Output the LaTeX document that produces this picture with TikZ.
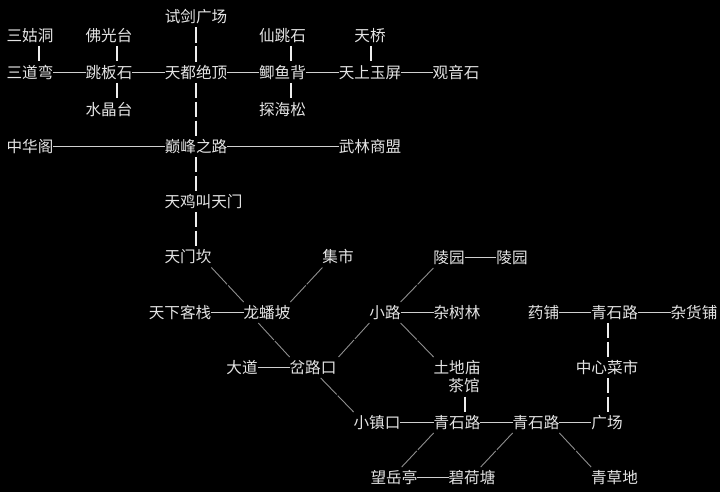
\documentclass[tikz,border=0pt]{standalone}
\usepackage{fontspec}
\setmainfont{Noto Sans CJK SC}
\tikzset{
  place/.style={inner sep=0pt,outer sep=0pt,text=placetext,font=\fontsize{15.6}{15.6}\selectfont,text height=16.35pt,text depth=4.65pt},
  hlink/.style={draw=hlinecolor,line width=1.1pt},
  vlink/.style={draw=vlinecolor,line width=1.7pt,dash pattern=on 15.4pt off 3.4pt},
  dlink/.style={draw=dlinecolor,line width=0.9pt,dash pattern=on 23pt off 1.5pt},
}
\definecolor{placetext}{HTML}{E4E4E4}
\definecolor{hlinecolor}{HTML}{D0D0D0}
\definecolor{vlinecolor}{HTML}{EEEEEE}
\definecolor{dlinecolor}{HTML}{8E8E8E}
\begin{document}
\begin{tikzpicture}[x=1pt,y=-1pt]
\fill[black] (0,0) rectangle (720,492);
\useasboundingbox (0,0) rectangle (720,492);
\node[place] (sangu) at (30,35.5) {三姑洞};
\node[place] (foguang) at (109,35.5) {佛光台};
\node[place] (shijian) at (196,17) {试剑广场};
\node[place] (xiantiao) at (282.5,35.5) {仙跳石};
\node[place] (tianqiao) at (370,35.5) {天桥};
\node[place] (sandao) at (30,72.5) {三道弯};
\node[place] (tiaoban) at (109,72.5) {跳板石};
\node[place] (tiandu) at (196,72.5) {天都绝顶};
\node[place] (jiyu) at (282.5,72.5) {鲫鱼背};
\node[place] (yuping) at (370,72.5) {天上玉屏};
\node[place] (guanyin) at (456,72.5) {观音石};
\node[place] (shuijing) at (109,110) {水晶台};
\node[place] (tanhai) at (282.5,110) {探海松};
\node[place] (zhonghua) at (30,146.5) {中华阁};
\node[place] (dianfeng) at (196,146.5) {巅峰之路};
\node[place] (wulin) at (370,146.5) {武林商盟};
\node[place] (tianji) at (203.5,201.5) {天鸡叫天门};
\node[place] (tianmen) at (188,257) {天门坎};
\node[place] (jishi) at (338,257) {集市};
\node[place] (lingyuan) at (449,257.5) {陵园};
\node[place] (lingyuanb) at (512,257.5) {陵园};
\node[place] (kezhan) at (180,312.5) {天下客栈};
\node[place] (longpan) at (267,312.5) {龙蟠坡};
\node[place] (xiaolu) at (385,312.5) {小路};
\node[place] (zashu) at (457,312.5) {杂树林};
\node[place] (yaopu) at (543.5,312.5) {药铺};
\node[place] (qingshia) at (614.5,312.5) {青石路};
\node[place] (zahuo) at (694,312.5) {杂货铺};
\node[place] (dadao) at (242,367.5) {大道};
\node[place] (chalu) at (313,367.5) {岔路口};
\node[place] (tudi) at (457,367.5) {土地庙};
\node[place] (zhongxin) at (607,367.5) {中心菜市};
\node[place] (chaguan) at (464,386) {茶馆};
\node[place] (xiaozhen) at (377,422.5) {小镇口};
\node[place] (qingshib) at (457,422.5) {青石路};
\node[place] (qingshic) at (536,422.5) {青石路};
\node[place] (guangchang) at (607,422.5) {广场};
\node[place] (wangyue) at (394,477.5) {望岳亭};
\node[place] (bihe) at (472,477.5) {碧荷塘};
\node[place] (qingcao) at (614.5,477.5) {青草地};
% horizontal
\draw[hlink] (sandao) -- (tiaoban);
\draw[hlink] (tiaoban) -- (tiandu);
\draw[hlink] (tiandu) -- (jiyu);
\draw[hlink] (jiyu) -- (yuping);
\draw[hlink] (yuping) -- (guanyin);
\draw[hlink] (zhonghua) -- (dianfeng);
\draw[hlink] (dianfeng) -- (wulin);
\draw[hlink] (lingyuan) -- (lingyuanb);
\draw[hlink] (kezhan) -- (longpan);
\draw[hlink] (xiaolu) -- (zashu);
\draw[hlink] (yaopu) -- (qingshia);
\draw[hlink] (qingshia) -- (zahuo);
\draw[hlink] (dadao) -- (chalu);
\draw[hlink] (xiaozhen) -- (qingshib);
\draw[hlink] (qingshib) -- (qingshic);
\draw[hlink] (qingshic) -- (guangchang);
\draw[hlink] (wangyue) -- (bihe);
% vertical
\draw[vlink] ([xshift=8.7pt]sangu.south) -- ([xshift=8.7pt]sandao.north);
\draw[vlink] ([xshift=8.3pt]foguang.south) -- ([xshift=8.3pt]tiaoban.north);
\draw[vlink] ([xshift=8.3pt]tiaoban.south) -- ([xshift=8.3pt]shuijing.north);
\draw[vlink] ([xshift=.3pt]shijian.south) -- ([xshift=.3pt]tiandu.north);
\draw[vlink] ([xshift=.3pt]tiandu.south) -- ([xshift=.3pt]dianfeng.north);
\draw[vlink] ([xshift=.3pt]dianfeng.south) -- ([xshift=-7.2pt]tianji.north);
\draw[vlink] ([xshift=-7.2pt]tianji.south) -- ([xshift=8.3pt]tianmen.north);
\draw[vlink] ([xshift=8.8pt]xiantiao.south) -- ([xshift=8.8pt]jiyu.north);
\draw[vlink] ([xshift=8.8pt]jiyu.south) -- ([xshift=8.8pt]tanhai.north);
\draw[vlink] ([xshift=1pt]tianqiao.south) -- ([xshift=1pt]yuping.north);
\draw[vlink] ([xshift=-6.8pt]qingshia.south) -- ([xshift=.7pt]zhongxin.north);
\draw[vlink] ([xshift=.7pt]zhongxin.south) -- ([xshift=.7pt]guangchang.north);
\draw[vlink] ([xshift=1.3pt]chaguan.south) -- ([xshift=8.3pt]qingshib.north);
% diagonal
\draw[dlink] (tianmen.south east) -- (longpan.north west);
\draw[dlink] (jishi.south west) -- (longpan.north east);
\draw[dlink] ([xshift=-8.7pt]longpan.south) -- (chalu.north west);
\draw[dlink] ([xshift=25.5pt]chalu.north) -- (xiaolu.south west);
\draw[dlink] ([xshift=7.7pt]chalu.south) -- (xiaozhen.north west);
\draw[dlink] (xiaolu.north east) -- (lingyuan.south west);
\draw[dlink] (xiaolu.south east) -- (tudi.north west);
\draw[dlink] (qingshib.south west) -- ([xshift=7.7pt]wangyue.north);
\draw[dlink] (qingshic.south west) -- ([xshift=8.7pt]bihe.north);
\draw[dlink] (qingshic.south east) -- (qingcao.north west);
\end{tikzpicture}
\end{document}
